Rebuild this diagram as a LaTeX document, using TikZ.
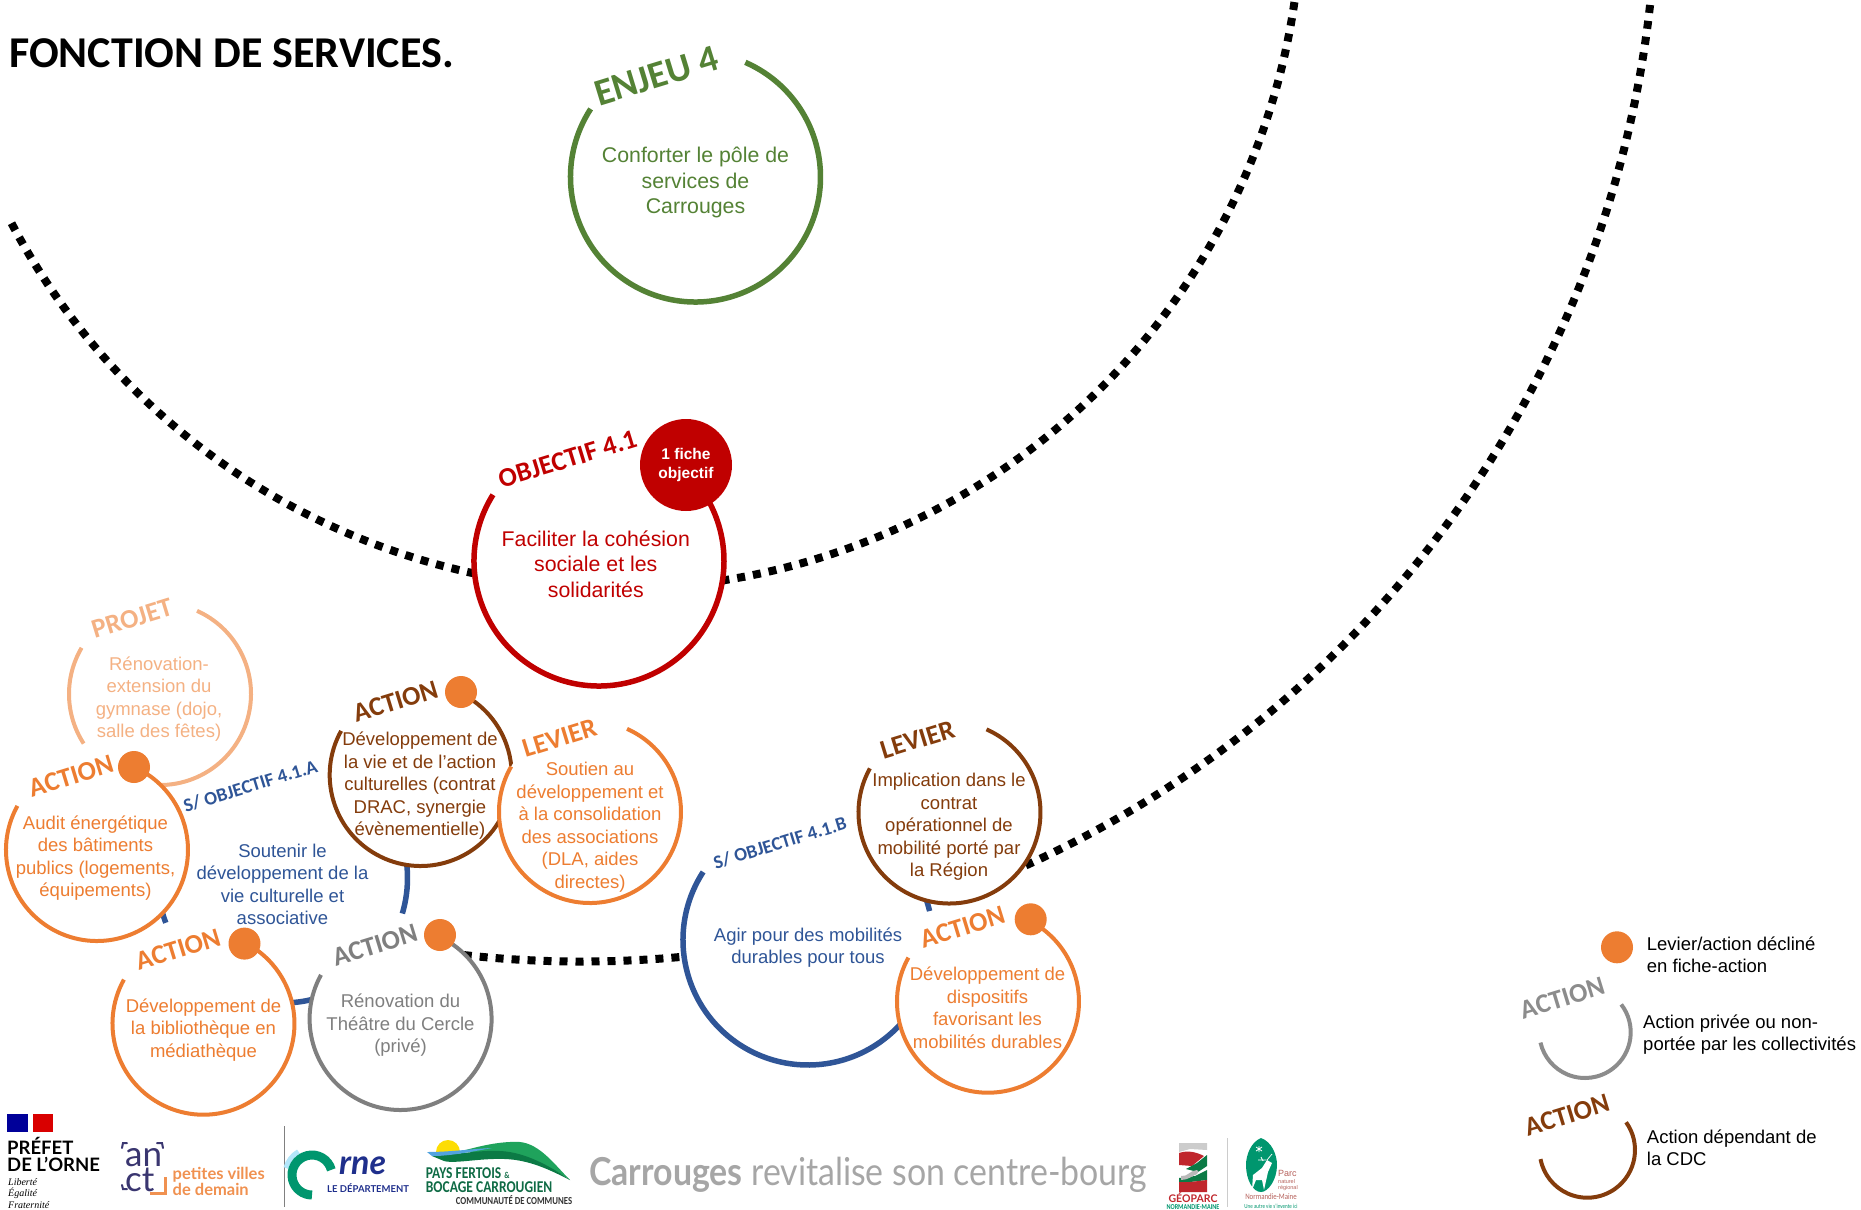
\documentclass[tikz,border=0pt]{standalone}
\usepackage{fontspec}
\setmainfont{Liberation Sans}
\newfontfamily\labelfont{Carlito}
\newfontfamily\narrowfont[FakeStretch=0.82]{Carlito}
\newfontfamily\logofont{Lato}
\newfontfamily\bourgfont[FakeStretch=0.88]{Lato}
\newfontfamily\serifitalic{Liberation Serif}
\definecolor{enjeugreen}{HTML}{548235}
\definecolor{objectifred}{HTML}{C00000}
\definecolor{actionorange}{HTML}{ED7D31}
\definecolor{projetorange}{HTML}{F4B183}
\definecolor{cdcbrown}{HTML}{843C0C}
\definecolor{sobjblue}{HTML}{2F5597}
\definecolor{priveegrey}{HTML}{7F7F7F}
\definecolor{ornegreen}{HTML}{00966E}
\definecolor{ornenavy}{HTML}{1F2F8C}
\definecolor{anctpurple}{HTML}{3A3670}
\definecolor{fertoislight}{HTML}{1FA35C}
\definecolor{fertoisdark}{HTML}{0B7A45}
\definecolor{fertoistext}{HTML}{0F6B45}
\definecolor{geored}{HTML}{C0272D}
\definecolor{parcred}{HTML}{B5605A}
\tikzset{
    bigdisc/.style={circle,fill=white,inner sep=0pt,minimum size=250pt},
    smalldisc/.style={circle,fill=white,inner sep=0pt,minimum size=182pt},
    ringline/.style={line width=5.5pt},
    smallline/.style={line width=4pt},
    orbitline/.style={line width=8pt,dash pattern=on 8pt off 8pt,black},
    bigtext/.style={align=center,inner sep=0pt,font=\fontsize{21.3}{25.5}\selectfont},
    smalltext/.style={align=center,inner sep=0pt,font=\fontsize{18.5}{22.5}\selectfont},
    legendtext/.style={align=left,anchor=west,inner sep=0pt,font=\fontsize{18.5}{22}\selectfont},
    ringlabel/.style={rotate=17,inner sep=0pt,font=\labelfont\bfseries\fontsize{27}{30}\selectfont},
    subsmall/.style={rotate=17,inner sep=0pt,text=sobjblue,font=\labelfont\bfseries\fontsize{19}{22}\selectfont},
    fichedot/.style={circle,fill=actionorange,inner sep=0pt,minimum size=32pt},
}
\begin{document}
\begin{tikzpicture}[x=1pt,y=-1pt]
    \useasboundingbox (0,0) rectangle (1861,1210);
    \node[anchor=west,inner sep=0pt,font=\labelfont\bfseries\fontsize{44}{48}\selectfont] (title) at (9,53) {FONCTION DE SERVICES.};

    % big dotted orbits
    \coordinate (orbitone) at (617,-96);
    \coordinate (orbittwo) at (581.6,-113.5);
    \draw[orbitline] (orbitone) ++(207.8:684.5pt) arc[start angle=207.8,end angle=352,radius=684.5pt];
    \draw[orbitline] (orbittwo) ++(262:1075pt) arc[start angle=262,end angle=354,radius=1075pt];

    % enjeu and objectif
    \node[bigdisc] (enjeu) at (695.5,177) {};
    \draw[ringline,enjeugreen] (enjeu.center) ++(147:125pt) arc[start angle=147,end angle=426.5,radius=125pt];
    \node[bigdisc] (objectif) at (599,561) {};
    \draw[ringline,objectifred] (objectif.center) ++(148:125pt) arc[start angle=148,end angle=388,radius=125pt];
    \node[circle,fill=objectifred,inner sep=0pt,minimum size=92pt,text=white,align=center,font=\bfseries\fontsize{15.5}{19}\selectfont] (fiche) at (686,465) {1 fiche\\objectif};

    % sous-objectif A
    \node[bigdisc] (soba) at (282.5,878) {};
    \draw[ringline,sobjblue] (soba.center) ++(-16.5:125pt) arc[start angle=-16.5,end angle=20,radius=125pt];
    \draw[ringline,sobjblue] (soba.center) ++(-120:125pt) arc[start angle=-120,end angle=-60,radius=125pt];
    \draw[ringline,sobjblue] (soba.center) ++(150:125pt) arc[start angle=150,end angle=201,radius=125pt];
    \draw[smallline,projetorange] (160,694) ++(149.5:91pt) arc[start angle=149.5,end angle=213,radius=91pt];
    \draw[smallline,projetorange] (160,694) ++(-100:91pt) arc[start angle=-100,end angle=66,radius=91pt];
    \node[smalldisc] (audit) at (97,850) {};
    \draw[smallline,actionorange] (audit.center) ++(151:91pt) arc[start angle=151,end angle=426,radius=91pt];
    \node[smalldisc] (culture) at (420.7,775) {};
    \draw[smallline,cdcbrown] (culture.center) ++(151:91pt) arc[start angle=151,end angle=424,radius=91pt];
    \node[smalldisc] (soutien) at (590,812) {};
    \draw[smallline,actionorange] (soutien.center) ++(150:91pt) arc[start angle=150,end angle=426,radius=91pt];
    \node[smalldisc] (biblio) at (203.5,1023.7) {};
    \draw[smallline,actionorange] (biblio.center) ++(151:91pt) arc[start angle=151,end angle=423,radius=91pt];
    \node[smalldisc] (theatre) at (400.6,1019) {};
    \draw[smallline,priveegrey] (theatre.center) ++(151:91pt) arc[start angle=151,end angle=425,radius=91pt];

    % sous-objectif B
    \node[bigdisc] (sobb) at (808,940) {};
    \draw[ringline,sobjblue] (sobb.center) ++(147:125pt) arc[start angle=147,end angle=340,radius=125pt];
    \draw[ringline,sobjblue] (sobb.center) ++(13.4:125pt) arc[start angle=13.4,end angle=25,radius=125pt];
    \node[smalldisc] (mobilite) at (949.5,812.5) {};
    \draw[smallline,cdcbrown] (mobilite.center) ++(151:91pt) arc[start angle=151,end angle=426,radius=91pt];
    \node[smalldisc] (dispositifs) at (988,1001.7) {};
    \draw[smallline,actionorange] (dispositifs.center) ++(151:91pt) arc[start angle=151,end angle=423,radius=91pt];

    % dots
    \node[fichedot] (dotaudit) at (134,767) {};
    \node[fichedot] (dotculture) at (461,692) {};
    \node[fichedot] (dotbiblio) at (244.5,943.6) {};
    \node[fichedot] (dottheatre) at (440,935) {};
    \node[fichedot] (dotdispositifs) at (1030.7,919.3) {};
    \node[fichedot] (dotlegend) at (1617,947.3) {};

    % rotated labels
    \node[ringlabel,text=enjeugreen,font=\labelfont\bfseries\fontsize{38}{42}\selectfont] (lenjeu) at (656.5,76) {ENJEU 4};
    \node[ringlabel,text=objectifred] (lobjectif) at (567.5,459) {OBJECTIF 4.1};
    \node[ringlabel,text=projetorange] (lprojet) at (132,618.5) {PROJET};
    \node[ringlabel,text=actionorange] (laudit) at (71,776) {ACTION};
    \node[ringlabel,text=cdcbrown] (lculture) at (395.5,701.5) {ACTION};
    \node[ringlabel,text=actionorange] (lsoutien) at (559.5,738) {LEVIER};
    \node[ringlabel,text=actionorange] (lbiblio) at (178,949.5) {ACTION};
    \node[ringlabel,text=priveegrey] (ltheatre) at (375,945) {ACTION};
    \node[ringlabel,text=cdcbrown] (lmobilite) at (917.5,739.5) {LEVIER};
    \node[ringlabel,text=actionorange] (ldispositifs) at (962.5,927) {ACTION};
    \node[subsmall] (lsoba) at (250.5,786) {S/ OBJECTIF 4.1.A};
    \node[subsmall] (lsobb) at (780,843) {S/ OBJECTIF 4.1.B};

    % texts
    \node[bigtext,text=enjeugreen] (tenjeu) at (695.5,182.5) {Conforter le pôle de\\services de\\Carrouges};
    \node[bigtext,text=objectifred] (tobjectif) at (595.8,564) {Faciliter la cohésion\\sociale et les\\solidarités};
    \node[smalltext,text=projetorange] (tprojet) at (159,699.2) {Rénovation-\\extension du\\gymnase (dojo,\\salle des fêtes)};
    \node[smalltext,text=actionorange] (taudit) at (95.5,858) {Audit énergétique\\des bâtiments\\publics (logements,\\équipements)};
    \node[smalltext,text=cdcbrown] (tculture) at (420,785.9) {Développement de\\la vie et de l’action\\culturelles (contrat\\DRAC, synergie\\évènementielle)};
    \node[smalltext,text=actionorange] (tsoutien) at (590,827) {Soutien au\\développement et\\à la consolidation\\des associations\\(DLA, aides\\directes)};
    \node[smalltext,text=sobjblue] (tsoba) at (282.5,884.6) {Soutenir le\\développement de la\\vie culturelle et\\associative};
    \node[smalltext,text=actionorange] (tbiblio) at (203.5,1030) {Développement de\\la bibliothèque en\\médiathèque};
    \node[smalltext,text=priveegrey] (ttheatre) at (400.5,1025.5) {Rénovation du\\Théâtre du Cercle\\(privé)};
    \node[smalltext,text=sobjblue] (tsobb) at (808,947.4) {Agir pour des mobilités\\durables pour tous};
    \node[smalltext,text=cdcbrown] (tmobilite) at (949,826.8) {Implication dans le\\contrat\\opérationnel de\\mobilité porté par\\la Région};
    \node[smalltext,text=actionorange] (tdispositifs) at (987.5,1008) {Développement de\\dispositifs\\favorisant les\\mobilités durables};

    % legend
    \node[legendtext] (legone) at (1646.7,955) {Levier/action décliné\\en fiche-action};
    \coordinate (leggrey) at (1585,1032.3);
    \draw[smallline,priveegrey!90] (leggrey) ++(37.6:45.7pt) arc[start angle=37.6,end angle=-167,radius=45.7pt];
    \node[ringlabel,text=priveegrey!90] (legaction) at (1562.3,998) {ACTION};
    \node[legendtext] (legtwo) at (1643,1034.5) {Action privée ou non-\\portée par les collectivités};
    \coordinate (legbrown) at (1587.3,1150);
    \draw[smallline,cdcbrown] (legbrown) ++(35.6:47.7pt) arc[start angle=35.6,end angle=-169,radius=47.7pt];
    \node[ringlabel,text=cdcbrown] (legcdc) at (1567,1115) {ACTION};
    \node[legendtext] (legthree) at (1646.7,1148) {Action dépendant de\\la CDC};

    % logos, prefet
    \fill[blue!60!black] (7,1114) rectangle (28,1132);
    \fill[red!85!black] (33,1114) rectangle (53,1132);
    \node[anchor=west,inner sep=0pt,font=\logofont\bfseries\fontsize{18.5}{17}\selectfont,align=left] (prefet) at (7,1154.5) {PRÉFET\\DE L’ORNE};
    \node[anchor=north west,inner sep=0pt,font=\serifitalic\itshape\fontsize{10}{11.5}\selectfont,align=left] (devise) at (8,1178) {Liberté\\Égalité\\Fraternité};
    % anct
    \node[anchor=west,inner sep=0pt,text=anctpurple,font=\logofont\fontsize{35}{22}\selectfont,align=left] (anct) at (125,1170) {an\\ct};
    \draw[line width=2pt,anctpurple,line cap=round] (122,1148) -- (123,1143) -- (127,1143);
    \draw[line width=2pt,anctpurple,line cap=round] (157,1143) -- (162,1143) -- (163,1148);
    \draw[line width=2pt,anctpurple,line cap=round] (122,1185) -- (123,1189) -- (127,1189);
    \draw[line width=3pt,actionorange!85] (165,1177) -- (165,1193) -- (150,1193);
    \node[anchor=west,inner sep=0pt,text=actionorange!85,font=\logofont\bfseries\fontsize{16.5}{13.5}\selectfont,align=left] (pvd) at (172.5,1181.5) {petites villes\\de demain};
    \draw[line width=1pt,gray] (284,1126) -- (284,1207);
    % orne
    \draw[line width=5pt,cyan!30] (312,1175) ++(165:27pt) arc[start angle=165,end angle=120,radius=27pt];
    \draw[line width=9pt,ornegreen] (312,1175) ++(15:20pt) arc[start angle=15,end angle=270,radius=20pt];
    \node[anchor=west,inner sep=0pt,text=ornenavy,font=\logofont\bfseries\itshape\fontsize{34}{36}\selectfont] (rne) at (339,1166) {rne};
    \node[anchor=west,inner sep=0pt,text=ornenavy,font=\logofont\bfseries\fontsize{9.5}{11}\selectfont] (ledep) at (327,1188) {LE DÉPARTEMENT};
    % pays fertois
    \fill[yellow!80!orange] (436,1152) arc[start angle=180,end angle=0,radius=12pt] -- cycle;
    \fill[fertoislight] (458,1152) .. controls (480,1146) and (500,1141) .. (520,1142) .. controls (540,1144) and (555,1165) .. (570,1180) .. controls (550,1166) and (520,1153) .. (495,1152) -- cycle;
    \fill[fertoisdark] (432,1156) .. controls (460,1154) and (480,1150) .. (500,1151) .. controls (525,1152) and (550,1166) .. (570,1180) .. controls (550,1170) and (530,1160) .. (505,1159) .. controls (480,1158) and (455,1164) .. (444,1161) -- cycle;
    \fill[cyan!70!blue!70] (427,1152) .. controls (450,1152) and (470,1149) .. (492,1148) .. controls (470,1152) and (450,1156) .. (432,1156) -- cycle;
    \node[anchor=west,inner sep=0pt,text=fertoistext,font=\narrowfont\bfseries\fontsize{16.5}{14}\selectfont,align=left] (fertois) at (425.7,1180) {PAYS FERTOIS {\fontsize{9}{9}\selectfont\&}\\BOCAGE CARROUGIEN};
    \node[anchor=west,inner sep=0pt,text=black!80,font=\narrowfont\bfseries\fontsize{10.7}{11}\selectfont] (cdc) at (455.7,1200.3) {COMMUNAUTÉ DE COMMUNES};
    % carrouges
    \node[anchor=west,inner sep=0pt,text=gray!70,font=\bourgfont\fontsize{38.5}{42}\selectfont] (carrouges) at (589,1175) {\textbf{Carrouges} revitalise son centre-bourg};
    % geoparc
    \fill[gray!40] (1179,1143) -- (1207,1143) -- (1207,1150) -- (1190,1149) -- (1179,1152) -- cycle;
    \fill[geored] (1179,1153) .. controls (1188,1150) and (1196,1152) .. (1204,1156) -- (1192,1166) -- (1179,1165) -- cycle;
    \fill[fertoisdark] (1207,1155) -- (1207,1166) -- (1198,1172) -- (1186,1169) -- (1197,1163) -- cycle;
    \fill[fertoisdark] (1207,1170) -- (1207,1180) -- (1190,1182) -- (1179,1182) -- (1179,1178) -- (1195,1176) -- cycle;
    \fill[gray!55] (1181,1176) .. controls (1188,1177) and (1190,1170) .. (1197,1170) .. controls (1199,1170) and (1199,1173) .. (1197,1174) .. controls (1192,1176) and (1188,1180) .. (1181,1180) -- cycle;
    \fill[geored] (1179,1182) -- (1190,1182) -- (1207,1180) -- (1207,1192) -- (1179,1192) -- cycle;
    \node[inner sep=0pt,text=geored,font=\logofont\bfseries\fontsize{10.5}{12}\selectfont] (geoparc) at (1193,1198) {GÉOPARC};
    \node[inner sep=0pt,text=ornegreen,font=\narrowfont\bfseries\fontsize{7.5}{8}\selectfont] (normaine) at (1193,1207) {NORMANDIE-MAINE};
    \draw[line width=.5pt,gray!40] (1227.5,1138) -- (1227.5,1207);
    % parc
    \fill[ornegreen] (1261,1138) .. controls (1272,1142) and (1277,1155) .. (1277,1165) .. controls (1277,1180) and (1268,1192) .. (1261,1192) .. controls (1253,1192) and (1246,1180) .. (1246,1165) .. controls (1246,1155) and (1251,1142) .. (1261,1138) -- cycle;
    \fill[white] (1252,1190) -- (1253,1175) -- (1262,1168) -- (1267,1160) -- (1272,1163) -- (1268,1172) -- (1264,1190) -- (1262,1180) -- (1256,1180) -- cycle;
    \draw[white,line width=.7pt] (1258,1160) -- (1266,1160) (1261,1157) -- (1263,1161) (1267,1160) -- (1272,1154);
    \draw[white,line width=.8pt] (1256,1147) -- (1262,1151) (1262,1147) -- (1256,1151) (1259,1146) -- (1259,1152);
    \node[anchor=west,inner sep=0pt,text=parcred,font=\fontsize{9}{9}\selectfont] (parc) at (1278,1173) {Parc};
    \node[anchor=west,inner sep=0pt,text=parcred,font=\fontsize{5.5}{6.5}\selectfont,align=left] (parcnat) at (1278,1185) {naturel\\régional};
    \node[inner sep=0pt,text=parcred,font=\narrowfont\fontsize{8.4}{10}\selectfont] (normandie) at (1271,1197) {Normandie-Maine};
    \node[inner sep=0pt,text=ornegreen,font=\narrowfont\fontsize{6.2}{8}\selectfont] (invente) at (1271,1206) {Une autre vie s’invente ici};
\end{tikzpicture}
\end{document}
